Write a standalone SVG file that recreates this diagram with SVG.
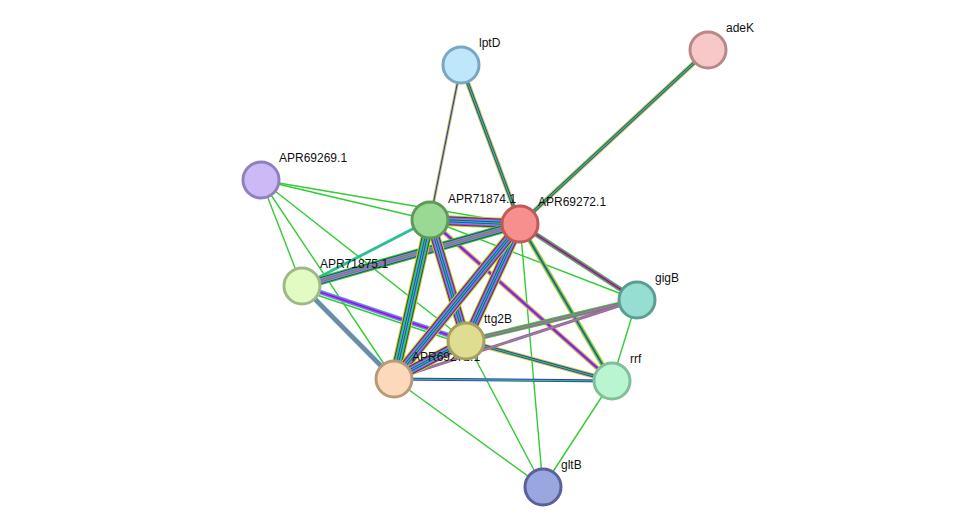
<svg xmlns="http://www.w3.org/2000/svg" width="976" height="532" viewBox="0 0 976 532">
<style>
text{font-family:"Liberation Sans",Arial,sans-serif;font-size:12px;fill:#111}
line{fill:none}
.g{stroke:#33cc33;stroke-width:1.4}
.k{stroke:#444}.m{stroke:#e030e0}.c{stroke:#30b8e0}.b{stroke:#3333ee}.gr{stroke:#33cc33}.y{stroke:#c8d030}
.w11{stroke-width:11}.w9{stroke-width:9}.w7{stroke-width:7}.w5{stroke-width:5}.w3{stroke-width:3}.w1{stroke-width:1.2}
circle{stroke-width:3}
</style>
<defs>
<line id="e_lp74" x1="461" y1="65" x2="430" y2="220"/>
<line id="e_lp72" x1="461" y1="65" x2="520" y2="224"/>
<line id="e_ad72" x1="708" y1="50" x2="520" y2="224"/>
<line id="e_7472" x1="430" y1="220" x2="520" y2="224"/>
<line id="e_7475" x1="430" y1="220" x2="302" y2="286"/>
<line id="e_74tt" x1="430" y1="220" x2="466" y2="341"/>
<line id="e_74ap" x1="430" y1="220" x2="394" y2="379"/>
<line id="e_74rr" x1="430" y1="220" x2="612" y2="381"/>
<line id="e_7275" x1="520" y1="224" x2="302" y2="286"/>
<line id="e_72gi" x1="520" y1="224" x2="637" y2="300"/>
<line id="e_72rr" x1="520" y1="224" x2="612" y2="381"/>
<line id="e_72tt" x1="520" y1="224" x2="466" y2="341"/>
<line id="e_72ap" x1="520" y1="224" x2="394" y2="379"/>
<line id="e_75tt" x1="302" y1="286" x2="466" y2="341"/>
<line id="e_75ap" x1="302" y1="286" x2="394" y2="379"/>
<line id="e_ttap" x1="466" y1="341" x2="394" y2="379"/>
<line id="e_ttgi" x1="466" y1="341" x2="637" y2="300"/>
<line id="e_ttrr" x1="466" y1="341" x2="612" y2="381"/>
<line id="e_apgi" x1="394" y1="379" x2="637" y2="300"/>
<line id="e_aprr" x1="394" y1="379" x2="612" y2="381"/>
</defs>
<rect width="976" height="532" fill="#fff"/>
<g id="connectors">
<line class="g" x1="261" y1="180" x2="430" y2="220"/>
<line class="g" x1="261" y1="180" x2="520" y2="224"/>
<line class="g" x1="261" y1="180" x2="302" y2="286"/>
<line class="g" x1="261" y1="180" x2="394" y2="379"/>
<line class="g" x1="261" y1="180" x2="466" y2="341"/>
<line class="g" x1="430" y1="220" x2="637" y2="300"/>
<line class="g" x1="520" y1="224" x2="543" y2="487"/>
<line class="g" x1="466" y1="341" x2="543" y2="487"/>
<line class="g" x1="394" y1="379" x2="543" y2="487"/>
<line class="g" x1="637" y1="300" x2="612" y2="381"/>
<line class="g" x1="612" y1="381" x2="543" y2="487"/>
<line class="g" x1="302" y1="286" x2="466" y2="341" transform="translate(0,4)"/>
<!-- 2-3 line edges -->
<use href="#e_lp74" class="y w3"/><use href="#e_lp74" class="b w1"/>
<use href="#e_lp72" class="y w5"/><use href="#e_lp72" class="b w3"/><use href="#e_lp72" class="gr w1"/>
<use href="#e_ad72" class="y w5"/><use href="#e_ad72" class="b w3"/><use href="#e_ad72" class="gr w1"/>
<use href="#e_7475" class="c w3"/><use href="#e_7475" class="gr w1"/>
<use href="#e_74rr" class="y w5"/><use href="#e_74rr" class="m w3"/><use href="#e_74rr" class="b w1"/>
<use href="#e_72gi" class="gr w5"/><use href="#e_72gi" class="m w3"/><use href="#e_72gi" class="k w1"/>
<use href="#e_72rr" class="y w5"/><use href="#e_72rr" class="gr w3"/><use href="#e_72rr" class="b w1"/>
<use href="#e_75tt" class="c w5"/><use href="#e_75tt" class="m w3"/><use href="#e_75tt" class="b w1"/>
<use href="#e_75ap" class="c w5"/><use href="#e_75ap" class="m w3"/><use href="#e_75ap" class="gr w1"/>
<use href="#e_ttgi" class="gr w5"/><use href="#e_ttgi" class="m w3"/><use href="#e_ttgi" class="gr w1"/>
<use href="#e_ttrr" class="y w5"/><use href="#e_ttrr" class="b w3"/><use href="#e_ttrr" class="gr w1"/>
<use href="#e_apgi" class="m w3"/><use href="#e_apgi" class="gr w1"/>
<use href="#e_aprr" class="b w3"/><use href="#e_aprr" class="gr w1"/>
<!-- multi edges -->
<use href="#e_7472" class="y w11"/><use href="#e_7472" class="k w9"/><use href="#e_7472" class="m w7"/><use href="#e_7472" class="c w5"/><use href="#e_7472" class="b w3"/><use href="#e_7472" class="gr w1"/>
<use href="#e_7275" class="gr w9"/><use href="#e_7275" class="k w7"/><use href="#e_7275" class="c w5"/><use href="#e_7275" class="m w3"/><use href="#e_7275" class="gr w1"/>
<use href="#e_74tt" class="y w11"/><use href="#e_74tt" class="k w9"/><use href="#e_74tt" class="m w7"/><use href="#e_74tt" class="c w5"/><use href="#e_74tt" class="b w3"/><use href="#e_74tt" class="gr w1"/>
<use href="#e_74ap" class="y w11"/><use href="#e_74ap" class="k w9"/><use href="#e_74ap" class="gr w7"/><use href="#e_74ap" class="c w5"/><use href="#e_74ap" class="b w3"/><use href="#e_74ap" class="gr w1"/>
<use href="#e_72tt" class="y w11"/><use href="#e_72tt" class="k w9"/><use href="#e_72tt" class="m w7"/><use href="#e_72tt" class="c w5"/><use href="#e_72tt" class="b w3"/><use href="#e_72tt" class="gr w1"/>
<use href="#e_72ap" class="y w11"/><use href="#e_72ap" class="k w9"/><use href="#e_72ap" class="m w7"/><use href="#e_72ap" class="c w5"/><use href="#e_72ap" class="b w3"/><use href="#e_72ap" class="gr w1"/>
<use href="#e_ttap" class="y w11"/><use href="#e_ttap" class="k w9"/><use href="#e_ttap" class="m w7"/><use href="#e_ttap" class="c w5"/><use href="#e_ttap" class="b w3"/><use href="#e_ttap" class="gr w1"/>
</g>
<g id="APR69271.1"><circle cx="394" cy="379" r="18" fill="#fdd9bb" stroke="#b89a78"/><text x="412" y="361">APR69271.1</text></g>
<g id="lptD"><circle cx="461" cy="65" r="18" fill="#bfe7fb" stroke="#7aa6c2"/><text x="479" y="47">lptD</text></g>
<g id="adeK"><circle cx="708" cy="50" r="18" fill="#f8c8c8" stroke="#b88888"/><text x="726" y="32">adeK</text></g>
<g id="APR69269.1"><circle cx="261" cy="180" r="18" fill="#ccbaf6" stroke="#9080c0"/><text x="279" y="162">APR69269.1</text></g>
<g id="APR71874.1"><circle cx="430" cy="220" r="18" fill="#9ad993" stroke="#5e9a58"/><text x="448" y="203">APR71874.1</text></g>
<g id="APR69272.1"><circle cx="520" cy="224" r="18" fill="#f78f8f" stroke="#c05a5a"/><text x="538" y="206">APR69272.1</text></g>
<g id="APR71875.1"><circle cx="302" cy="286" r="18" fill="#e2fbc2" stroke="#a0b888"/><text x="320" y="268">APR71875.1</text></g>
<g id="gigB"><circle cx="637" cy="300" r="18" fill="#96ded2" stroke="#5a9e92"/><text x="655" y="282">gigB</text></g>
<g id="ttg2B"><circle cx="466" cy="341" r="18" fill="#dedd90" stroke="#a8a060"/><text x="484" y="323">ttg2B</text></g>
<g id="rrf"><circle cx="612" cy="381" r="18" fill="#baf5d2" stroke="#80c098"/><text x="630" y="363">rrf</text></g>
<g id="gltB"><circle cx="543" cy="487" r="18" fill="#9aa6e0" stroke="#5a6098"/><text x="561" y="469">gltB</text></g>
</svg>
